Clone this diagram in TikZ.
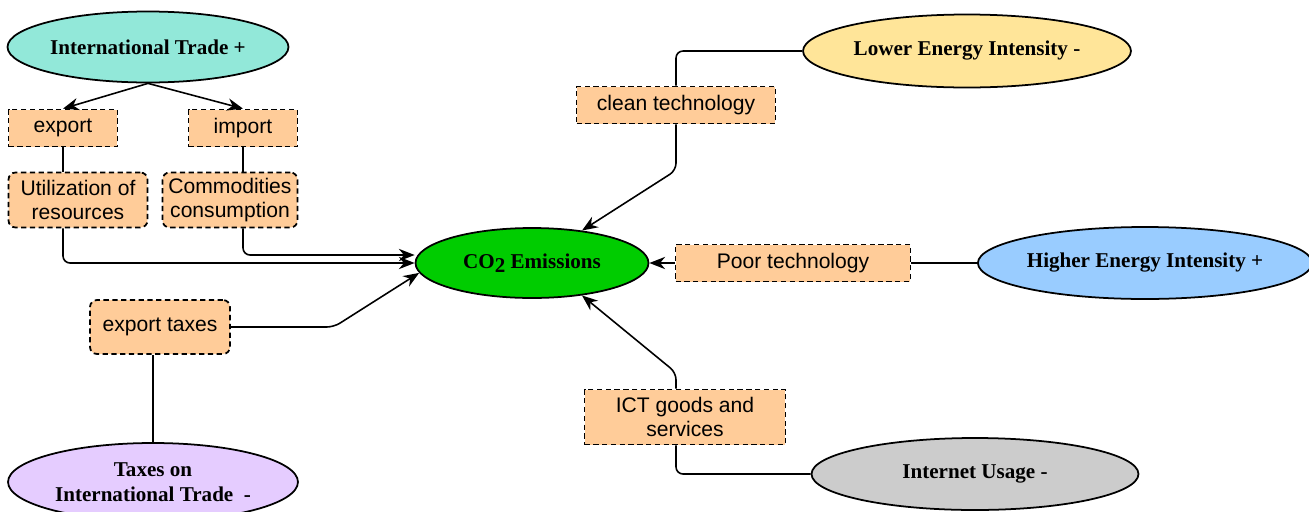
\documentclass[tikz,border=0pt]{standalone}
\usepackage{fontspec}
\setmainfont{Liberation Serif}
\setsansfont{Liberation Sans}
\usetikzlibrary{shapes.geometric,arrows.meta}
\definecolor{tradefill}{HTML}{92E8D9}
\definecolor{lowfill}{HTML}{FFE599}
\definecolor{highfill}{HTML}{99CCFF}
\definecolor{netfill}{HTML}{CCCCCC}
\definecolor{taxfill}{HTML}{E5CCFF}
\definecolor{cofill}{HTML}{00CC00}
\definecolor{boxfill}{HTML}{FFCC99}

\begin{document}
\begin{tikzpicture}[x=0.02cm,y=-0.02cm,
    driver/.style={ellipse,draw,line width=1pt,align=center,inner sep=0pt,
      font=\fontsize{12}{14}\selectfont\bfseries},
    channel/.style={draw,line width=1pt,dash pattern=on 3pt off 2pt,fill=boxfill,
      align=center,inner sep=0pt,font=\sffamily\fontsize{12}{14}\selectfont},
    link/.style={line width=0.9pt,rounded corners=4pt},
    arr/.style={link,-{Stealth[length=9pt,width=7pt]}}]
  \useasboundingbox (0,0) rectangle (1309,511);
  \clip (0,0) rectangle (1309,511);

  \node[driver,fill=tradefill,minimum width=5.62cm,minimum height=1.42cm] (IT) at (148,47) {International Trade +};
  \node[driver,fill=lowfill,minimum width=6.56cm,minimum height=1.46cm] (LEI) at (967,51) {Lower Energy Intensity -};
  \node[driver,fill=highfill,minimum width=6.52cm,minimum height=1.44cm] (HEI) at (1145,263) {Higher Energy Intensity +};
  \node[driver,fill=netfill,minimum width=6.54cm,minimum height=1.44cm] (IU) at (975,474) {Internet Usage -};
  \node[driver,fill=taxfill,minimum width=5.8cm,minimum height=1.56cm] (TIT) at (153,482) {Taxes on\\International Trade~~-};
  \node[driver,fill=cofill,minimum width=4.66cm,minimum height=1.4cm] (CO2) at (532,263) {CO\raisebox{-0.35ex}{2} Emissions};

  \node[channel,minimum width=2.18cm,minimum height=0.74cm] (export) at (63,128) {export};
  \node[channel,minimum width=2.18cm,minimum height=0.74cm] (import) at (243,128) {import};
  \node[channel,rounded corners=4pt,minimum width=2.78cm,minimum height=1.1cm] (util) at (78,200) {Utilization of\\resources};
  \node[channel,rounded corners=4pt,minimum width=2.7cm,minimum height=1.1cm] (comm) at (230,200) {Commodities\\consumption};
  \node[channel,rounded corners=4pt,minimum width=2.8cm,minimum height=1.08cm] (taxes) at (160,327) {export taxes};
  \node[channel,minimum width=3.98cm,minimum height=0.74cm] (clean) at (676,105) {clean technology};
  \node[channel,minimum width=4.7cm,minimum height=0.74cm] (poor) at (793,263) {Poor technology};
  \node[channel,minimum width=4.02cm,minimum height=1.1cm] (ict) at (685,417) {ICT goods and\\services};

  \draw[arr] (IT.south) -- (export.north);
  \draw[arr] (IT.south) -- (import.north);
  \draw[link] (export.south) -- (export.south |- util.north);
  \draw[link] (import.south) -- (import.south |- comm.north);
  \draw[arr] (export.south |- util.south) |- (CO2.west);
  \draw[arr] (import.south |- comm.south) |- ([yshift=0.16cm]CO2.west);
  \draw[arr] (taxes.east) -- ++(103,0) -- (CO2.185);
  \draw[link] (TIT.north) -- (TIT.north |- taxes.south);
  \draw[link] (LEI.west) -| (clean.north);
  \draw[arr] (clean.south) -- ++(0,46) -- (CO2.33);
  \draw[link] (HEI.west) -- (poor.east);
  \draw[arr] (poor.west) -- (CO2.east);
  \draw[link] (clean.south |- ict.south) |- (IU.west);
  \draw[arr] (clean.south |- ict.north) -- ++(0,-16) -- (CO2.-33);
\end{tikzpicture}
\end{document}
